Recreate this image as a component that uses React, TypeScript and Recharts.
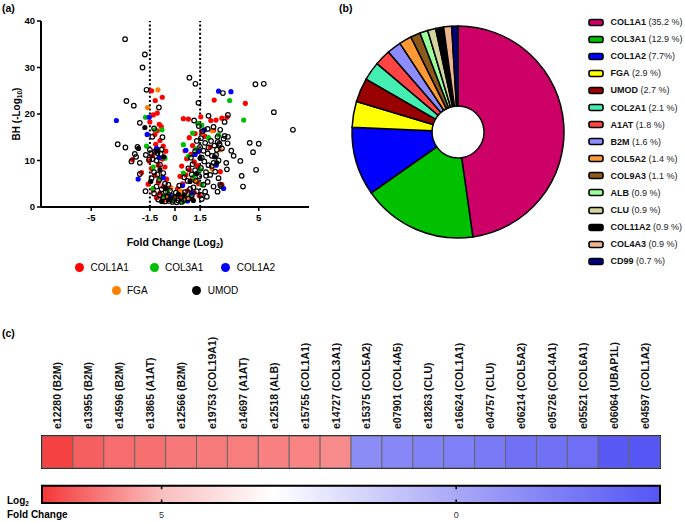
import React from 'react';
import {
  ScatterChart, Scatter, XAxis, YAxis, ReferenceLine, Legend, Label,
  PieChart, Pie, Cell, BarChart, Bar, ReferenceArea,
} from 'recharts';

const FONT = '"Liberation Sans", Arial, Helvetica, sans-serif';

// ---------- (a) Volcano plot data: [log2 fold change, -log10 BH] ----------
const otherPts: [number, number][] = [
  [-2.98, 36.1], [-1.8, 32.8], [-1.94, 30.0], [-1.7, 25.2], [-2.9, 22.8], [-2.46, 21.8], [-0.96, 21.4],
  [-2.1, 18.1], [-1.25, 16.9], [-1.35, 15.1], [-0.75, 15.0], [-3.42, 13.5], [-2.96, 12.8], [-2.4, 11.4],
  [-2.32, 10.8], [-2.24, 12.9], [-2.6, 9.8], [-2.1, 9.5], [-1.74, 11.2], [-2.1, 7.1], [-1.76, 3.4],
  [-1.5, 12.3], [-1.42, 11.5], [-1.2, 11.9], [-1.05, 11.6], [-0.85, 11.4], [-0.8, 12.4], [-1.33, 10.3],
  [-1.55, 10.2], [-1.1, 10.0], [-0.9, 9.1], [-1.25, 7.5], [-1.05, 7.0], [-0.7, 7.3], [-0.95, 5.8],
  [-1.4, 6.2], [-0.6, 5.0], [-0.4, 4.8], [-0.55, 3.2], [-0.8, 3.8], [-1.1, 4.4], [-0.3, 3.5], [-0.2, 2.4],
  [-0.45, 2.2], [-0.7, 2.0], [-0.9, 2.6], [-0.1, 1.5], [-0.35, 1.3], [-0.6, 1.2], [-1.0, 1.6], [-1.25, 2.9],
  [0.86, 27.8], [1.22, 26.5], [2.86, 24.5], [4.8, 26.4], [5.3, 26.5], [5.9, 20.4], [3.16, 19.8], [2.96, 18.3],
  [1.4, 22.4], [1.14, 18.6], [2.0, 19.6], [4.46, 13.8], [5.0, 13.6], [4.66, 11.8], [3.9, 9.9], [4.84, 8.0],
  [3.98, 6.7], [4.06, 4.4], [3.06, 9.5], [3.1, 8.1], [3.36, 12.1], [3.5, 11.0], [3.16, 15.1], [7.04, 16.6],
  [2.7, 16.6], [2.9, 14.7], [2.55, 14.0], [2.35, 13.2], [2.15, 14.2], [2.0, 12.8], [1.8, 13.8], [1.7, 12.1],
  [1.95, 11.5], [2.2, 11.0], [2.45, 11.2], [2.8, 12.6], [2.65, 13.6], [2.6, 10.0], [2.3, 9.5], [2.0, 9.0],
  [1.75, 9.8], [1.6, 10.6], [1.55, 8.4], [1.85, 7.5], [2.1, 6.9], [2.4, 7.6], [2.6, 6.2], [2.3, 4.4],
  [2.54, 3.3], [2.7, 4.8], [1.95, 5.4], [1.7, 4.8], [1.45, 6.6], [1.25, 5.6], [1.1, 4.2], [1.3, 3.4],
  [1.55, 2.6], [1.8, 3.3], [1.0, 2.5], [0.8, 1.8], [0.55, 1.5], [0.35, 2.0], [0.2, 1.4], [0.6, 3.2],
  [0.9, 3.9], [1.2, 7.9], [1.0, 7.0], [0.75, 5.6], [1.5, 12.9], [1.3, 14.2], [1.55, 14.8], [1.65, 16.3],
  [1.95, 16.8], [2.3, 17.2], [1.42, 17.4], [1.2, 12.0], [0.95, 10.6], [1.05, 9.2], [0.8, 8.3], [0.55, 6.4],
  [0.25, 4.6], [0.05, 3.1], [-0.05, 2.0], [0.4, 1.1], [0.1, 1.0], [-0.15, 1.1], [1.6, 1.7], [1.9, 2.2],
  [2.54, 15.1], [2.96, 15.3], [3.14, 13.7], [2.66, 13.3], [2.5, 12.3], [2.2, 8.8], [1.86, 6.7], [2.74, 4.5],
];
const col1a1Pts: [number, number][] = [
  [-1.4, 25.0], [-0.76, 23.6], [-1.18, 22.9], [-1.3, 19.8], [-1.06, 20.2], [-1.5, 18.3], [-0.94, 17.8],
  [-0.82, 17.3], [-1.06, 16.4], [-1.2, 15.6], [-0.9, 14.3], [-0.7, 13.1], [-1.15, 13.5], [-0.55, 12.0],
  [-1.35, 11.0], [-0.75, 10.3], [-1.0, 9.0], [-0.6, 8.6], [-1.4, 8.3], [-1.2, 6.8], [-0.8, 6.4], [-0.5, 6.0],
  [-1.6, 4.9], [-1.0, 5.2], [-0.7, 4.4], [-0.35, 4.0], [-1.3, 3.6], [-0.9, 3.0], [-0.5, 2.6], [-0.25, 1.9],
  [-0.7, 1.4], [-1.1, 2.0], [-2.55, 10.2], [-2.0, 7.4], [-1.55, 9.9],
  [2.34, 23.0], [4.2, 22.3], [1.54, 19.4], [0.8, 18.9], [3.1, 19.3], [2.8, 19.1], [2.14, 18.6], [2.45, 18.7],
  [1.6, 16.1], [2.3, 16.5], [1.2, 15.8], [0.85, 14.9], [1.05, 13.2], [0.6, 12.1], [0.95, 11.3], [1.4, 11.9],
  [0.7, 10.4], [1.15, 9.7], [0.4, 8.8], [0.85, 8.0], [1.35, 8.9], [0.3, 6.6], [0.65, 6.9], [1.05, 6.1],
  [1.4, 5.0], [0.45, 5.0], [0.15, 3.9], [0.75, 3.5], [1.15, 3.1], [0.3, 2.2], [0.6, 1.6], [1.0, 1.9],
  [1.45, 2.4], [2.7, 7.6], [2.8, 4.8], [2.1, 12.9], [1.8, 15.2], [0.5, 19.0],
];
const col3a1Pts: [number, number][] = [
  [-1.76, 19.3], [-1.7, 13.1], [-1.2, 16.6], [-0.78, 16.6], [-1.0, 12.3], [-0.6, 10.5], [-1.3, 8.6],
  [-0.9, 6.2], [-1.3, 4.0], [-0.45, 3.4], [-0.2, 1.6], [-0.65, 2.3],
  [3.26, 22.9], [4.1, 18.7], [1.6, 17.6], [2.6, 15.5], [1.05, 15.9], [0.5, 13.4], [1.25, 12.5], [0.8, 10.9],
  [1.5, 8.0], [0.5, 7.3], [1.1, 6.5], [1.6, 4.8], [0.25, 3.0], [0.9, 2.4], [0.5, 1.2], [2.0, 14.9], [1.35, 18.0],
];
const col1a2Pts: [number, number][] = [
  [-3.5, 18.6], [-1.54, 19.3], [-1.66, 15.6], [-1.1, 12.6], [-2.2, 6.0], [-0.95, 10.6], [-0.7, 6.3], [-0.3, 2.3],
  [2.6, 24.9], [3.34, 24.8], [1.76, 16.6], [2.46, 9.0], [2.9, 4.0], [0.65, 12.2], [1.2, 11.3], [0.45, 4.6],
  [1.0, 3.0], [0.75, 1.3], [1.4, 12.0],
];
const fgaPts: [number, number][] = [
  [-1.02, 25.2], [-1.64, 21.4], [2.22, 16.4], [2.2, 8.2], [2.7, 12.3], [-0.5, 1.8], [0.35, 3.4], [0.7, 2.0],
  [-0.25, 4.2], [1.2, 5.6], [0.1, 2.2],
];
const umodPts: [number, number][] = [
  [-1.8, 17.1], [-2.18, 12.6], [-0.66, 10.8], [2.36, 10.8], [2.5, 9.5], [-1.1, 12.1], [-0.9, 8.0], [-0.55, 4.0],
  [0.2, 2.7], [0.9, 5.5], [1.3, 7.2], [-0.35, 1.6], [0.55, 2.6], [1.5, 10.5], [-1.45, 5.5], [1.1, 1.4], [-0.8, 1.2],
];
const volcanoXTicks = [-5, -1.5, 0, 1.5, 5];
const volcanoYTicks = [0, 10, 20, 30, 40];
const cutoffs = [-1.5, 1.5];

const highlightSeries = [
  { name: 'COL1A1', color: '#ff0000', pts: col1a1Pts },
  { name: 'COL3A1', color: '#00c000', pts: col3a1Pts },
  { name: 'COL1A2', color: '#0000ff', pts: col1a2Pts },
  { name: 'FGA', color: '#ff8000', pts: fgaPts },
  { name: 'UMOD', color: '#000000', pts: umodPts },
];

// ---------- (b) Pie data ----------
const pieNames = ['COL1A1', 'COL3A1', 'COL1A2', 'FGA', 'UMOD', 'COL2A1', 'A1AT', 'B2M', 'COL5A2', 'COL9A3', 'ALB', 'CLU', 'COL11A2', 'COL4A3', 'CD99'];
const piePercents = [35.2, 12.9, 7.7, 2.9, 2.7, 2.1, 1.8, 1.6, 1.4, 1.1, 0.9, 0.9, 0.9, 0.9, 0.7];
const pieLegendPct = ['(35.2 %)', '(12.9 %)', '(7.7%)', '(2.9 %)', '(2.7 %)', '(2.1 %)', '(1.8 %)', '(1.6 %)', '(1.4 %)', '(1.1 %)', '(0.9 %)', '(0.9 %)', '(0.9 %)', '(0.9 %)', '(0.7 %)'];
const pieColors = ['#cc0066', '#00c000', '#0000ff', '#ffff00', '#990000', '#44eeb0', '#ff4444', '#8c8cff', '#ff9933', '#8b5a1a', '#99ff99', '#d4d4a0', '#000000', '#f0b48c', '#000080'];

// ---------- (c) Heatmap data ----------
const heatLabels = ['e12280 (B2M)', 'e13955 (B2M)', 'e14596 (B2M)', 'e13865 (A1AT)', 'e12566 (B2M)', 'e19753 (COL19A1)', 'e14697 (A1AT)', 'e12518 (ALB)', 'e15755 (COL1A1)', 'e14727 (COL3A1)', 'e15375 (COL5A2)', 'e07901 (COL4A5)', 'e18263 (CLU)', 'e16624 (COL1A1)', 'e04757 (CLU)', 'e06214 (COL5A2)', 'e05726 (COL4A1)', 'e05521 (COL6A1)', 'e06064 (UBAP1L)', 'e04597 (COL1A2)'];
const heatLog2FC = [6.88, 6.43, 6.23, 6.17, 6.05, 6.02, 5.96, 5.93, 5.87, 5.75, -1.17, -1.42, -1.58, -1.71, -1.92, -2.29, -2.29, -2.42, -3.33, -3.42];
const colorbarDomain: [number, number] = [-3.46, 7.03];
const colorbarTicks = [5, 0];

// colour scale (value -> rgb) used by both the cells and the colour bar
const colorStops = [
  { v: 7.03, c: [245, 55, 55] },
  { v: 5, c: [250, 190, 190] },
  { v: 3.1, c: [255, 255, 255] },
  { v: 0, c: [168, 168, 248] },
  { v: -3.46, c: [85, 85, 245] },
];
function colorFor(v: number): string {
  for (let i = 0; i < colorStops.length - 1; i++) {
    const a = colorStops[i], b = colorStops[i + 1];
    if (v <= a.v && v >= b.v) {
      const t = (a.v - v) / (a.v - b.v);
      const c = a.c.map((ac, k) => Math.round(ac + (b.c[k] - ac) * t));
      return `rgb(${c[0]},${c[1]},${c[2]})`;
    }
  }
  const end = v > colorStops[0].v ? colorStops[0].c : colorStops[colorStops.length - 1].c;
  return `rgb(${end[0]},${end[1]},${end[2]})`;
}

const toXY = (pts: [number, number][]) => pts.map(([x, y]) => ({ x, y }));

// ---------- components ----------
const VolcanoLegend = () => {
  const pos = [
    { left: 75, top: 7.5 }, { left: 149.5, top: 7.5 }, { left: 221.2, top: 7.5 },
    { left: 111.5, top: 30.5 }, { left: 192.2, top: 30.5 },
  ];
  return (
    <div style={{ position: 'relative', width: 320, height: 50, fontFamily: FONT }}>
      {highlightSeries.map((s, i) => (
        <div key={s.name} style={{ position: 'absolute', left: pos[i].left, top: pos[i].top, display: 'flex', alignItems: 'center', whiteSpace: 'nowrap' }}>
          <span style={{ display: 'inline-block', width: 9, height: 9, borderRadius: '50%', background: s.color }} />
          <span style={{ marginLeft: 6.5, fontSize: 10, color: '#000', lineHeight: '9px' }}>{s.name}</span>
        </div>
      ))}
    </div>
  );
};

const PieLegend = () => (
  <div style={{ fontFamily: FONT, width: 100 }}>
    {pieNames.map((n, i) => (
      <div key={n} style={{ height: 17.1, display: 'flex', alignItems: 'center', whiteSpace: 'nowrap' }}>
        <svg width={16} height={9} style={{ flex: 'none' }}>
          <rect x={1} y={1.5} width={14} height={6} rx={2} ry={2} fill={pieColors[i]} stroke="#000" strokeWidth={1.6} />
        </svg>
        <span style={{ marginLeft: 6.5, fontSize: 9, color: '#111' }}>
          <b>{n}</b> <span style={{ color: '#222' }}>{pieLegendPct[i]}</span>
        </span>
      </div>
    ))}
  </div>
);

const HeatTick = (props: any) => {
  const { x, y, payload } = props;
  return (
    <text x={x} y={y} transform={`rotate(-90 ${x} ${y})`} textAnchor="start" dominantBaseline="central"
      fontSize={10.5} fontWeight="bold" fontFamily={FONT} fill="#111">{payload.value}</text>
  );
};

export default function App() {
  const openData = toXY(otherPts);
  const pieData = pieNames.map((n, i) => ({ name: n, value: piePercents[i] }));
  const heatData = heatLabels.map((label, i) => ({ label, fc: heatLog2FC[i], cell: 1 }));
  const cbData = colorbarTicks.map((t) => ({ x: t, y: 0.5 }));
  const span = colorbarDomain[1] - colorbarDomain[0];

  return (
    <div style={{ position: 'absolute', left: 0, top: 0, width: 685, height: 523, background: '#fff', fontFamily: FONT }}>
      {/* (a) volcano */}
      <div style={{ position: 'absolute', left: 0, top: 0 }}>
        <ScatterChart width={320} height={300} margin={{ top: 21, right: 11, bottom: 13, left: 10 }}>
          <XAxis type="number" dataKey="x" domain={[-8, 8]} ticks={volcanoXTicks} allowDataOverflow
            tick={{ fontSize: 9.5, fontWeight: 'bold', fill: '#000', fontFamily: FONT }}
            tickSize={4} tickMargin={3} height={30}
            axisLine={{ stroke: '#000', strokeWidth: 2 }} tickLine={{ stroke: '#000', strokeWidth: 1.5 }}>
            <Label content={(p: any) => {
              const vb = p.viewBox;
              return (
                <text x={vb.x + vb.width / 2} y={vb.y + 38.5} textAnchor="middle" fontSize={10.5} fontWeight="bold" fontFamily={FONT} fill="#000">
                  Fold Change (Log<tspan fontSize={7} dy={2.5}>2</tspan><tspan dy={-2.5}>)</tspan>
                </text>
              );
            }} />
          </XAxis>
          <YAxis type="number" dataKey="y" domain={[0, 40]} ticks={volcanoYTicks} allowDataOverflow width={31}
            tick={{ fontSize: 9.5, fontWeight: 'bold', fill: '#000', fontFamily: FONT }}
            tickSize={4} tickMargin={2}
            axisLine={{ stroke: '#000', strokeWidth: 2 }} tickLine={{ stroke: '#000', strokeWidth: 1.5 }}>
            <Label content={() => (
              <text x={16} y={114} transform="rotate(-90 16 114)" textAnchor="middle" dominantBaseline="central" fontSize={10} fontWeight="bold" fontFamily={FONT} fill="#000">
                BH (-Log<tspan fontSize={6.5} dy={2.5}>10</tspan><tspan dy={-2.5}>)</tspan>
              </text>
            )} />
          </YAxis>
          {cutoffs.map((c) => (
            <ReferenceLine key={c} x={c} stroke="#000" strokeWidth={2} strokeDasharray="2 2.2" />
          ))}
          {highlightSeries.map((s) => (
            <Scatter key={s.name} name={s.name} data={toXY(s.pts)} isAnimationActive={false}
              shape={(p: any) => <circle cx={p.cx} cy={p.cy} r={2.6} fill={s.color} />} />
          ))}
          <Scatter name="Other" data={openData} isAnimationActive={false}
            shape={(p: any) => <circle cx={p.cx} cy={p.cy} r={2.3} fill="none" stroke="#000" strokeWidth={1.2} />} />
          <Legend verticalAlign="bottom" content={VolcanoLegend} wrapperStyle={{ top: 255, left: 0, width: 320, height: 50 }} />
          <text x={2} y={12} fontSize={10.5} fontWeight="bold" fontFamily={FONT} fill="#000">(a)</text>
        </ScatterChart>
      </div>

      {/* (b) pie */}
      <div style={{ position: 'absolute', left: 330, top: 0 }}>
        <PieChart width={355} height={300} margin={{ top: 0, right: 0, bottom: 0, left: 0 }}>
          <Pie data={pieData} dataKey="value" nameKey="name" cx={128} cy={132} innerRadius={26} outerRadius={106}
            startAngle={90} endAngle={-270} stroke="#000" strokeWidth={1.5} isAnimationActive={false}>
            {pieData.map((d, i) => <Cell key={d.name} fill={pieColors[i]} />)}
          </Pie>
          <Legend layout="vertical" align="right" verticalAlign="top" content={PieLegend}
            wrapperStyle={{ left: 258, top: 13.5, width: 100 }} />
          <text x={9} y={11.5} fontSize={10.5} fontWeight="bold" fontFamily={FONT} fill="#000">(b)</text>
        </PieChart>
      </div>

      {/* (c) heatmap */}
      <div style={{ position: 'absolute', left: 0, top: 326 }}>
        <BarChart width={685} height={144} data={heatData} barCategoryGap={0} barGap={0}
          margin={{ top: 10, right: 25, bottom: 2, left: 42 }}>
          <XAxis dataKey="label" orientation="top" type="category" interval={0} height={100}
            tickLine={false} axisLine={false} tickSize={0} tickMargin={7} tick={<HeatTick />} />
          <YAxis type="number" domain={[0, 1]} hide />
          <Bar dataKey="cell" isAnimationActive={false} stroke="#666" strokeWidth={1}>
            {heatData.map((d) => <Cell key={d.label} fill={colorFor(d.fc)} />)}
          </Bar>
          <ReferenceArea x1={heatLabels[0]} x2={heatLabels[heatLabels.length - 1]} y1={0} y2={1}
            fill="none" stroke="#000" strokeWidth={2} ifOverflow="visible" />
          <text x={2} y={10.5} fontSize={10.5} fontWeight="bold" fontFamily={FONT} fill="#000">(c)</text>
        </BarChart>
      </div>

      {/* (c) colour bar */}
      <div style={{ position: 'absolute', left: 0, top: 470 }}>
        <ScatterChart width={685} height={53} margin={{ top: 15.7, right: 25, bottom: 2, left: 42 }}>
          <defs>
            <linearGradient id="cbGrad" x1="0" y1="0" x2="1" y2="0">
              {colorStops.map((s) => (
                <stop key={s.v} offset={(colorbarDomain[1] - s.v) / span} stopColor={`rgb(${s.c[0]},${s.c[1]},${s.c[2]})`} />
              ))}
            </linearGradient>
          </defs>
          <XAxis type="number" dataKey="x" domain={colorbarDomain} reversed ticks={colorbarTicks} allowDataOverflow
            height={18} tickLine={false} axisLine={false} tickSize={0} tickMargin={9}
            tick={{ fontSize: 9, fill: '#333', fontFamily: FONT }} />
          <YAxis type="number" dataKey="y" domain={[0, 1]} hide />
          <ReferenceArea x1={colorbarDomain[0]} x2={colorbarDomain[1]} y1={0} y2={1}
            fill="url(#cbGrad)" fillOpacity={1} stroke="#000" strokeWidth={2} ifOverflow="visible" />
          {colorbarTicks.map((t) => (
            <ReferenceLine key={t} x={t} stroke="#000" strokeWidth={1.5} strokeDasharray="3.5 10.3 3.5" />
          ))}
          <Scatter data={cbData} isAnimationActive={false} shape={() => <g />} />
          <text x={7} y={34} fontSize={10} fontWeight="bold" fontFamily={FONT} fill="#000">
            Log<tspan fontSize={6.5} dy={2}>2</tspan>
          </text>
          <text x={7} y={48} fontSize={10} fontWeight="bold" fontFamily={FONT} fill="#000">Fold Change</text>
        </ScatterChart>
      </div>
    </div>
  );
}
